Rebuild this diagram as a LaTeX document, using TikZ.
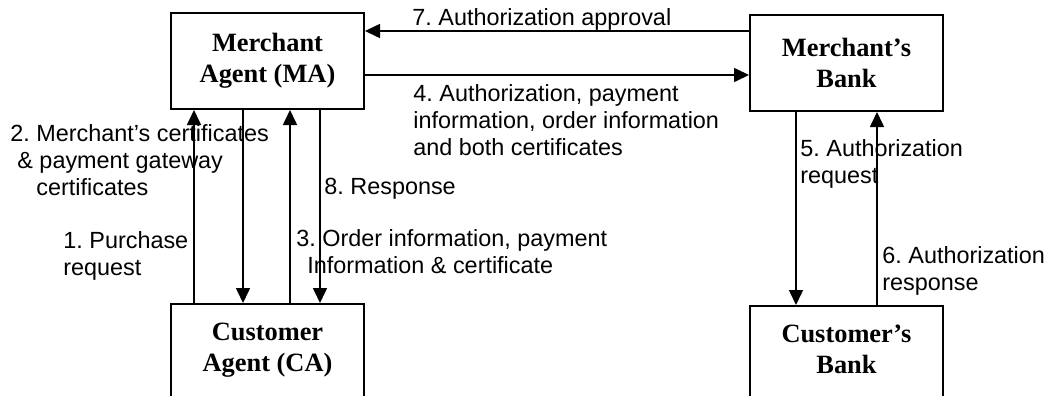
\documentclass[tikz,border=0pt]{standalone}
\usepackage{fontspec}
\setmainfont{Liberation Sans}
\newfontfamily\partyfont{Liberation Serif}
\usetikzlibrary{arrows.meta,positioning}
\frenchspacing
\tikzset{
  party/.style = {draw, line width=1pt, inner sep=0pt, minimum width=96.5pt, minimum height=48pt,
  align=center, font=\partyfont\bfseries\fontsize{13.2}{15.5}\selectfont},
  msg/.style = {anchor=north west, inner sep=0pt, align=left, font=\fontsize{11.7}{13.6}\selectfont},
  flow/.style = {-{Triangle[length=7.5pt,width=7pt]}, line width=0.8pt}
}

\begin{document}
\begin{tikzpicture}[x=0.5pt, y=-0.5pt]
		    \useasboundingbox (0,0) rectangle (1051,396);
		    % the four parties
		    \node [party, anchor=north west] (ma) at (170,12) {Merchant\\Agent (MA)};
		    \node [party, right=192pt of ma, yshift=-1pt] (mb) {Merchant’s\\Bank};
		    \node [party, below=96.5pt of ma] (ca) {Customer\\Agent (CA)\\[-10.5pt]};
		    \node [party, below=96.5pt of mb] (cb) {Customer’s\\Bank\\[-10.5pt]};
		    % where the connectors run
		    \coordinate (y7) at (0,31);
		    \coordinate (y4) at (0,75);
		    \coordinate (x1) at (194,0);
		    \coordinate (x2) at (243,0);
		    \coordinate (x3) at (290,0);
		    \coordinate (x8) at (320,0);
		    \coordinate (x5) at (796,0);
		    \coordinate (x6) at (877,0);
		    \draw [flow] (mb.west |- y7) -- (ma.east |- y7);
		    \draw [flow] (ma.east |- y4) -- (mb.west |- y4);
		    \draw [flow] (ca.north -| x1) -- (ma.south -| x1);
		    \draw [flow] (ma.south -| x2) -- (ca.north -| x2);
		    \draw [flow] (ca.north -| x3) -- (ma.south -| x3);
		    \draw [flow] (ma.south -| x8) -- (ca.north -| x8);
		    \draw [flow] (mb.south -| x5) -- (cb.north -| x5);
		    \draw [flow] (cb.north -| x6) -- (mb.south -| x6);
		    % messages
		    \node [msg] (m7) at (412,8) {7. Authorization approval};
		    \node [msg] (m4) at (413,84) {4. Authorization, payment\\information, order information\\and both certificates};
		    \node [msg] (m2) at (10,124) {2. Merchant’s certificates\\\hspace*{3.5pt}\& payment gateway\\\hspace*{13pt}certificates};
		    \node [msg] (m1) at (63,231) {1. Purchase\\request};
		    \node [msg] (m8) at (324,178) {8. Response};
		    \node [msg] (m3) at (296,229) {3. Order information, payment\\\hspace*{5.5pt}Information \& certificate};
		    \node [msg] (m5) at (800,139) {5. Authorization\\request};
		    \node [msg] (m6) at (882,246) {6. Authorization\\response};
\end{tikzpicture}
\end{document}
